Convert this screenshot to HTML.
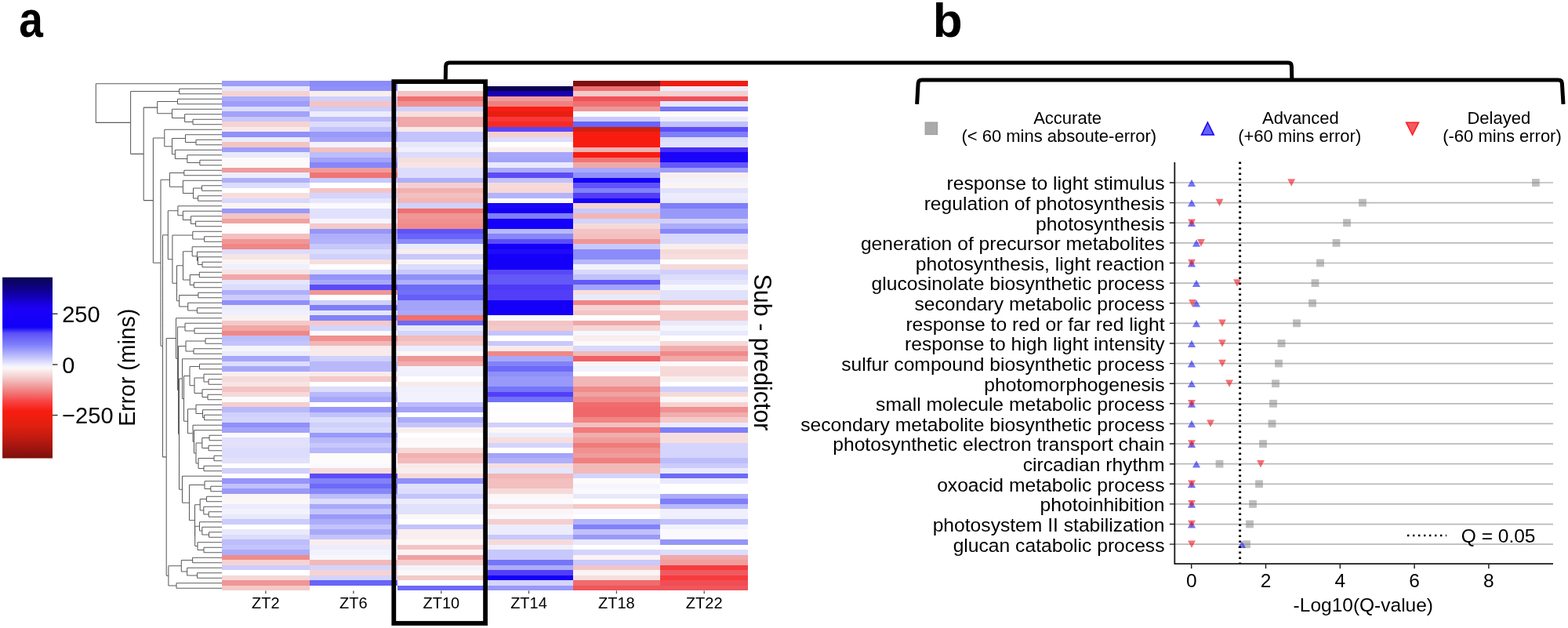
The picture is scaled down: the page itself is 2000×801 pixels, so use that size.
<!DOCTYPE html><html><head><meta charset="utf-8"><title>Figure</title><style>html,body{margin:0;padding:0;background:#fff}body{width:2000px;height:801px;overflow:hidden}svg{display:block}text{font-family:"Liberation Sans",Arial,Helvetica,sans-serif;fill:#000}</style></head><body>
<svg width="2000" height="801" viewBox="0 0 2000 801">
<rect width="2000" height="801" fill="#fff"/>
<text transform="translate(24.3 47.2) scale(0.86 1)" font-size="64" font-weight="bold" fill="#000">a</text>
<text x="1189.8" y="47" font-size="62" font-weight="bold" fill="#000">b</text>
<g shape-rendering="crispEdges">
<rect x="283.10" y="103.40" width="112.25" height="7.10" fill="#9e9efa"/>
<rect x="394.75" y="103.40" width="112.85" height="7.10" fill="#8b8bfa"/>
<rect x="507.00" y="103.40" width="112.20" height="7.10" fill="#ffffff"/>
<rect x="618.60" y="103.40" width="112.50" height="7.10" fill="#f9f9fe"/>
<rect x="730.50" y="103.40" width="112.30" height="7.10" fill="#801010"/>
<rect x="842.20" y="103.40" width="112.00" height="7.10" fill="#f01d10"/>
<rect x="283.10" y="109.90" width="112.25" height="7.10" fill="#e7e7fc"/>
<rect x="394.75" y="109.90" width="112.85" height="7.10" fill="#9090fa"/>
<rect x="507.00" y="109.90" width="112.20" height="7.10" fill="#fbfbfe"/>
<rect x="618.60" y="109.90" width="112.50" height="7.10" fill="#080050"/>
<rect x="730.50" y="109.90" width="112.30" height="7.10" fill="#f07070"/>
<rect x="842.20" y="109.90" width="112.00" height="7.10" fill="#ececfc"/>
<rect x="283.10" y="116.40" width="112.25" height="7.10" fill="#f6d3d3"/>
<rect x="394.75" y="116.40" width="112.85" height="7.10" fill="#f9eeee"/>
<rect x="507.00" y="116.40" width="112.20" height="7.10" fill="#f4c4c4"/>
<rect x="618.60" y="116.40" width="112.50" height="7.10" fill="#1800b0"/>
<rect x="730.50" y="116.40" width="112.30" height="7.10" fill="#f4c9c9"/>
<rect x="842.20" y="116.40" width="112.00" height="7.10" fill="#f5cece"/>
<rect x="283.10" y="122.90" width="112.25" height="7.10" fill="#acacfa"/>
<rect x="394.75" y="122.90" width="112.85" height="7.10" fill="#d0d0fc"/>
<rect x="507.00" y="122.90" width="112.20" height="7.10" fill="#f07070"/>
<rect x="618.60" y="122.90" width="112.50" height="7.10" fill="#f09c9c"/>
<rect x="730.50" y="122.90" width="112.30" height="7.10" fill="#f05058"/>
<rect x="842.20" y="122.90" width="112.00" height="7.10" fill="#f05058"/>
<rect x="283.10" y="129.40" width="112.25" height="7.10" fill="#9e9efa"/>
<rect x="394.75" y="129.40" width="112.85" height="7.10" fill="#f4c4c4"/>
<rect x="507.00" y="129.40" width="112.20" height="7.10" fill="#f09090"/>
<rect x="618.60" y="129.40" width="112.50" height="7.10" fill="#f08080"/>
<rect x="730.50" y="129.40" width="112.30" height="7.10" fill="#f07070"/>
<rect x="842.20" y="129.40" width="112.00" height="7.10" fill="#e5e5fc"/>
<rect x="283.10" y="135.90" width="112.25" height="7.10" fill="#dcdcfc"/>
<rect x="394.75" y="135.90" width="112.85" height="7.10" fill="#ccccfc"/>
<rect x="507.00" y="135.90" width="112.20" height="7.10" fill="#d0d0fc"/>
<rect x="618.60" y="135.90" width="112.50" height="7.10" fill="#f81f14"/>
<rect x="730.50" y="135.90" width="112.30" height="7.10" fill="#f09696"/>
<rect x="842.20" y="135.90" width="112.00" height="7.10" fill="#7575f8"/>
<rect x="283.10" y="142.40" width="112.25" height="7.10" fill="#a3a3fa"/>
<rect x="394.75" y="142.40" width="112.85" height="7.10" fill="#ececfc"/>
<rect x="507.00" y="142.40" width="112.20" height="7.10" fill="#f7dede"/>
<rect x="618.60" y="142.40" width="112.50" height="7.10" fill="#e81e10"/>
<rect x="730.50" y="142.40" width="112.30" height="7.10" fill="#fbfbfe"/>
<rect x="842.20" y="142.40" width="112.00" height="7.10" fill="#fefbfb"/>
<rect x="283.10" y="148.90" width="112.25" height="7.10" fill="#c8c8fc"/>
<rect x="394.75" y="148.90" width="112.85" height="7.10" fill="#bdbdfb"/>
<rect x="507.00" y="148.90" width="112.20" height="7.10" fill="#f0a8a8"/>
<rect x="618.60" y="148.90" width="112.50" height="7.10" fill="#f83838"/>
<rect x="730.50" y="148.90" width="112.30" height="7.10" fill="#c8c8fc"/>
<rect x="842.20" y="148.90" width="112.00" height="7.10" fill="#ececfc"/>
<rect x="283.10" y="155.40" width="112.25" height="7.10" fill="#f6d3d3"/>
<rect x="394.75" y="155.40" width="112.85" height="7.10" fill="#dcdcfc"/>
<rect x="507.00" y="155.40" width="112.20" height="7.10" fill="#f0a8a8"/>
<rect x="618.60" y="155.40" width="112.50" height="7.10" fill="#f82a24"/>
<rect x="730.50" y="155.40" width="112.30" height="7.10" fill="#6964f8"/>
<rect x="842.20" y="155.40" width="112.00" height="7.10" fill="#c1c1fc"/>
<rect x="283.10" y="161.90" width="112.25" height="7.10" fill="#f8eaea"/>
<rect x="394.75" y="161.90" width="112.85" height="7.10" fill="#c4c4fc"/>
<rect x="507.00" y="161.90" width="112.20" height="7.10" fill="#f8eaea"/>
<rect x="618.60" y="161.90" width="112.50" height="7.10" fill="#5947f8"/>
<rect x="730.50" y="161.90" width="112.30" height="7.10" fill="#d02010"/>
<rect x="842.20" y="161.90" width="112.00" height="7.10" fill="#5c4cf8"/>
<rect x="283.10" y="168.40" width="112.25" height="7.10" fill="#9090fa"/>
<rect x="394.75" y="168.40" width="112.85" height="7.10" fill="#9999fa"/>
<rect x="507.00" y="168.40" width="112.20" height="7.10" fill="#c4c4fc"/>
<rect x="618.60" y="168.40" width="112.50" height="7.10" fill="#f5cece"/>
<rect x="730.50" y="168.40" width="112.30" height="7.10" fill="#f81c10"/>
<rect x="842.20" y="168.40" width="112.00" height="7.10" fill="#7e7ef9"/>
<rect x="283.10" y="174.90" width="112.25" height="7.10" fill="#ececfc"/>
<rect x="394.75" y="174.90" width="112.85" height="7.10" fill="#a3a3fa"/>
<rect x="507.00" y="174.90" width="112.20" height="7.10" fill="#c4c4fc"/>
<rect x="618.60" y="174.90" width="112.50" height="7.10" fill="#dcdcfc"/>
<rect x="730.50" y="174.90" width="112.30" height="7.10" fill="#f81c10"/>
<rect x="842.20" y="174.90" width="112.00" height="7.10" fill="#dcdcfc"/>
<rect x="283.10" y="181.40" width="112.25" height="7.10" fill="#f4c4c4"/>
<rect x="394.75" y="181.40" width="112.85" height="7.10" fill="#f2f2fd"/>
<rect x="507.00" y="181.40" width="112.20" height="7.10" fill="#e7e7fc"/>
<rect x="618.60" y="181.40" width="112.50" height="7.10" fill="#fefcfc"/>
<rect x="730.50" y="181.40" width="112.30" height="7.10" fill="#f81c10"/>
<rect x="842.20" y="181.40" width="112.00" height="7.10" fill="#e1e1fc"/>
<rect x="283.10" y="187.90" width="112.25" height="7.10" fill="#9e9efa"/>
<rect x="394.75" y="187.90" width="112.85" height="7.10" fill="#f3bfbf"/>
<rect x="507.00" y="187.90" width="112.20" height="7.10" fill="#f0f0fd"/>
<rect x="618.60" y="187.90" width="112.50" height="7.10" fill="#f9eeee"/>
<rect x="730.50" y="187.90" width="112.30" height="7.10" fill="#f1b1b1"/>
<rect x="842.20" y="187.90" width="112.00" height="7.10" fill="#4830f8"/>
<rect x="283.10" y="194.40" width="112.25" height="7.10" fill="#e9e9fc"/>
<rect x="394.75" y="194.40" width="112.85" height="7.10" fill="#bdbdfb"/>
<rect x="507.00" y="194.40" width="112.20" height="7.10" fill="#dcdcfc"/>
<rect x="618.60" y="194.40" width="112.50" height="7.10" fill="#a7a7fa"/>
<rect x="730.50" y="194.40" width="112.30" height="7.10" fill="#f81c10"/>
<rect x="842.20" y="194.40" width="112.00" height="7.10" fill="#1a05f8"/>
<rect x="283.10" y="200.90" width="112.25" height="7.10" fill="#fdf9f9"/>
<rect x="394.75" y="200.90" width="112.85" height="7.10" fill="#a3a3fa"/>
<rect x="507.00" y="200.90" width="112.20" height="7.10" fill="#f7dede"/>
<rect x="618.60" y="200.90" width="112.50" height="7.10" fill="#a3a3fa"/>
<rect x="730.50" y="200.90" width="112.30" height="7.10" fill="#f07575"/>
<rect x="842.20" y="200.90" width="112.00" height="7.10" fill="#1a05f8"/>
<rect x="283.10" y="207.40" width="112.25" height="7.10" fill="#fdf9f9"/>
<rect x="394.75" y="207.40" width="112.85" height="7.10" fill="#8787f9"/>
<rect x="507.00" y="207.40" width="112.20" height="7.10" fill="#f7e4e4"/>
<rect x="618.60" y="207.40" width="112.50" height="7.10" fill="#e9e9fc"/>
<rect x="730.50" y="207.40" width="112.30" height="7.10" fill="#f0a8a8"/>
<rect x="842.20" y="207.40" width="112.00" height="7.10" fill="#6358f8"/>
<rect x="283.10" y="213.90" width="112.25" height="7.10" fill="#f09c9c"/>
<rect x="394.75" y="213.90" width="112.85" height="7.10" fill="#f09c9c"/>
<rect x="507.00" y="213.90" width="112.20" height="7.10" fill="#dcdcfc"/>
<rect x="618.60" y="213.90" width="112.50" height="7.10" fill="#acacfa"/>
<rect x="730.50" y="213.90" width="112.30" height="7.10" fill="#a9a9fa"/>
<rect x="842.20" y="213.90" width="112.00" height="7.10" fill="#9e9efa"/>
<rect x="283.10" y="220.40" width="112.25" height="7.10" fill="#ececfc"/>
<rect x="394.75" y="220.40" width="112.85" height="7.10" fill="#f07575"/>
<rect x="507.00" y="220.40" width="112.20" height="7.10" fill="#dcdcfc"/>
<rect x="618.60" y="220.40" width="112.50" height="7.10" fill="#5c4cf8"/>
<rect x="730.50" y="220.40" width="112.30" height="7.10" fill="#9090fa"/>
<rect x="842.20" y="220.40" width="112.00" height="7.10" fill="#f9eeee"/>
<rect x="283.10" y="226.90" width="112.25" height="7.10" fill="#afaffa"/>
<rect x="394.75" y="226.90" width="112.85" height="7.10" fill="#c8c8fc"/>
<rect x="507.00" y="226.90" width="112.20" height="7.10" fill="#afaffa"/>
<rect x="618.60" y="226.90" width="112.50" height="7.10" fill="#c1c1fc"/>
<rect x="730.50" y="226.90" width="112.30" height="7.10" fill="#1400f8"/>
<rect x="842.20" y="226.90" width="112.00" height="7.10" fill="#f2f2fd"/>
<rect x="283.10" y="233.40" width="112.25" height="7.10" fill="#dcdcfc"/>
<rect x="394.75" y="233.40" width="112.85" height="7.10" fill="#ffffff"/>
<rect x="507.00" y="233.40" width="112.20" height="7.10" fill="#f5cece"/>
<rect x="618.60" y="233.40" width="112.50" height="7.10" fill="#f6dada"/>
<rect x="730.50" y="233.40" width="112.30" height="7.10" fill="#5f52f8"/>
<rect x="842.20" y="233.40" width="112.00" height="7.10" fill="#fbf4f4"/>
<rect x="283.10" y="239.90" width="112.25" height="7.10" fill="#ffffff"/>
<rect x="394.75" y="239.90" width="112.85" height="7.10" fill="#f4c4c4"/>
<rect x="507.00" y="239.90" width="112.20" height="7.10" fill="#f1b1b1"/>
<rect x="618.60" y="239.90" width="112.50" height="7.10" fill="#f6d8d8"/>
<rect x="730.50" y="239.90" width="112.30" height="7.10" fill="#8282f9"/>
<rect x="842.20" y="239.90" width="112.00" height="7.10" fill="#e1e1fc"/>
<rect x="283.10" y="246.40" width="112.25" height="7.10" fill="#f7dede"/>
<rect x="394.75" y="246.40" width="112.85" height="7.10" fill="#d4d4fc"/>
<rect x="507.00" y="246.40" width="112.20" height="7.10" fill="#f3bfbf"/>
<rect x="618.60" y="246.40" width="112.50" height="7.10" fill="#b3b3fb"/>
<rect x="730.50" y="246.40" width="112.30" height="7.10" fill="#523ef8"/>
<rect x="842.20" y="246.40" width="112.00" height="7.10" fill="#ececfc"/>
<rect x="283.10" y="252.90" width="112.25" height="7.10" fill="#d8d8fc"/>
<rect x="394.75" y="252.90" width="112.85" height="7.10" fill="#e5e5fc"/>
<rect x="507.00" y="252.90" width="112.20" height="7.10" fill="#f2b6b6"/>
<rect x="618.60" y="252.90" width="112.50" height="7.10" fill="#fbfbfe"/>
<rect x="730.50" y="252.90" width="112.30" height="7.10" fill="#1a05f8"/>
<rect x="842.20" y="252.90" width="112.00" height="7.10" fill="#e9e9fc"/>
<rect x="283.10" y="259.40" width="112.25" height="7.10" fill="#fbf4f4"/>
<rect x="394.75" y="259.40" width="112.85" height="7.10" fill="#fafafe"/>
<rect x="507.00" y="259.40" width="112.20" height="7.10" fill="#d0d0fc"/>
<rect x="618.60" y="259.40" width="112.50" height="7.10" fill="#1a05f8"/>
<rect x="730.50" y="259.40" width="112.30" height="7.10" fill="#f6d3d3"/>
<rect x="842.20" y="259.40" width="112.00" height="7.10" fill="#7e7ef9"/>
<rect x="283.10" y="265.90" width="112.25" height="7.10" fill="#9999fa"/>
<rect x="394.75" y="265.90" width="112.85" height="7.10" fill="#e1e1fc"/>
<rect x="507.00" y="265.90" width="112.20" height="7.10" fill="#f07070"/>
<rect x="618.60" y="265.90" width="112.50" height="7.10" fill="#1400f3"/>
<rect x="730.50" y="265.90" width="112.30" height="7.10" fill="#c8c8fc"/>
<rect x="842.20" y="265.90" width="112.00" height="7.10" fill="#9999fa"/>
<rect x="283.10" y="272.40" width="112.25" height="7.10" fill="#f4c4c4"/>
<rect x="394.75" y="272.40" width="112.85" height="7.10" fill="#e1e1fc"/>
<rect x="507.00" y="272.40" width="112.20" height="7.10" fill="#f09696"/>
<rect x="618.60" y="272.40" width="112.50" height="7.10" fill="#7e7ef9"/>
<rect x="730.50" y="272.40" width="112.30" height="7.10" fill="#f2b6b6"/>
<rect x="842.20" y="272.40" width="112.00" height="7.10" fill="#9999fa"/>
<rect x="283.10" y="278.90" width="112.25" height="7.10" fill="#f0a2a2"/>
<rect x="394.75" y="278.90" width="112.85" height="7.10" fill="#f5f5fd"/>
<rect x="507.00" y="278.90" width="112.20" height="7.10" fill="#f09090"/>
<rect x="618.60" y="278.90" width="112.50" height="7.10" fill="#1400f8"/>
<rect x="730.50" y="278.90" width="112.30" height="7.10" fill="#d4d4fc"/>
<rect x="842.20" y="278.90" width="112.00" height="7.10" fill="#d0d0fc"/>
<rect x="283.10" y="285.40" width="112.25" height="7.10" fill="#fefcfc"/>
<rect x="394.75" y="285.40" width="112.85" height="7.10" fill="#f4c9c9"/>
<rect x="507.00" y="285.40" width="112.20" height="7.10" fill="#f08b8b"/>
<rect x="618.60" y="285.40" width="112.50" height="7.10" fill="#1400f8"/>
<rect x="730.50" y="285.40" width="112.30" height="7.10" fill="#f6dada"/>
<rect x="842.20" y="285.40" width="112.00" height="7.10" fill="#acacfa"/>
<rect x="283.10" y="291.90" width="112.25" height="7.10" fill="#fefcfc"/>
<rect x="394.75" y="291.90" width="112.85" height="7.10" fill="#9595fa"/>
<rect x="507.00" y="291.90" width="112.20" height="7.10" fill="#5f52f8"/>
<rect x="618.60" y="291.90" width="112.50" height="7.10" fill="#b8b8fb"/>
<rect x="730.50" y="291.90" width="112.30" height="7.10" fill="#f4c4c4"/>
<rect x="842.20" y="291.90" width="112.00" height="7.10" fill="#8787f9"/>
<rect x="283.10" y="298.40" width="112.25" height="7.10" fill="#f3bfbf"/>
<rect x="394.75" y="298.40" width="112.85" height="7.10" fill="#afaffa"/>
<rect x="507.00" y="298.40" width="112.20" height="7.10" fill="#6964f8"/>
<rect x="618.60" y="298.40" width="112.50" height="7.10" fill="#8787f9"/>
<rect x="730.50" y="298.40" width="112.30" height="7.10" fill="#f3bfbf"/>
<rect x="842.20" y="298.40" width="112.00" height="7.10" fill="#d8d8fc"/>
<rect x="283.10" y="304.90" width="112.25" height="7.10" fill="#f09696"/>
<rect x="394.75" y="304.90" width="112.85" height="7.10" fill="#b3b3fb"/>
<rect x="507.00" y="304.90" width="112.20" height="7.10" fill="#8b8bfa"/>
<rect x="618.60" y="304.90" width="112.50" height="7.10" fill="#5c4cf8"/>
<rect x="730.50" y="304.90" width="112.30" height="7.10" fill="#f09696"/>
<rect x="842.20" y="304.90" width="112.00" height="7.10" fill="#d8d8fc"/>
<rect x="283.10" y="311.40" width="112.25" height="7.10" fill="#f08787"/>
<rect x="394.75" y="311.40" width="112.85" height="7.10" fill="#c8c8fc"/>
<rect x="507.00" y="311.40" width="112.20" height="7.10" fill="#e9e9fc"/>
<rect x="618.60" y="311.40" width="112.50" height="7.10" fill="#1400f8"/>
<rect x="730.50" y="311.40" width="112.30" height="7.10" fill="#c8c8fc"/>
<rect x="842.20" y="311.40" width="112.00" height="7.10" fill="#f9eeee"/>
<rect x="283.10" y="317.90" width="112.25" height="7.10" fill="#dcdcfc"/>
<rect x="394.75" y="317.90" width="112.85" height="7.10" fill="#dcdcfc"/>
<rect x="507.00" y="317.90" width="112.20" height="7.10" fill="#f9eeee"/>
<rect x="618.60" y="317.90" width="112.50" height="7.10" fill="#200bf8"/>
<rect x="730.50" y="317.90" width="112.30" height="7.10" fill="#8b8bfa"/>
<rect x="842.20" y="317.90" width="112.00" height="7.10" fill="#f6dada"/>
<rect x="283.10" y="324.40" width="112.25" height="7.10" fill="#f7e4e4"/>
<rect x="394.75" y="324.40" width="112.85" height="7.10" fill="#d0d0fc"/>
<rect x="507.00" y="324.40" width="112.20" height="7.10" fill="#c8c8fc"/>
<rect x="618.60" y="324.40" width="112.50" height="7.10" fill="#1400f8"/>
<rect x="730.50" y="324.40" width="112.30" height="7.10" fill="#8b8bfa"/>
<rect x="842.20" y="324.40" width="112.00" height="7.10" fill="#f7dede"/>
<rect x="283.10" y="330.90" width="112.25" height="7.10" fill="#fbf4f4"/>
<rect x="394.75" y="330.90" width="112.85" height="7.10" fill="#f7dede"/>
<rect x="507.00" y="330.90" width="112.20" height="7.10" fill="#fbf4f4"/>
<rect x="618.60" y="330.90" width="112.50" height="7.10" fill="#1400f8"/>
<rect x="730.50" y="330.90" width="112.30" height="7.10" fill="#b8b8fb"/>
<rect x="842.20" y="330.90" width="112.00" height="7.10" fill="#ffffff"/>
<rect x="283.10" y="337.40" width="112.25" height="7.10" fill="#f0f0fd"/>
<rect x="394.75" y="337.40" width="112.85" height="7.10" fill="#ffffff"/>
<rect x="507.00" y="337.40" width="112.20" height="7.10" fill="#dcdcfc"/>
<rect x="618.60" y="337.40" width="112.50" height="7.10" fill="#1400f8"/>
<rect x="730.50" y="337.40" width="112.30" height="7.10" fill="#f2f2fd"/>
<rect x="842.20" y="337.40" width="112.00" height="7.10" fill="#f6dada"/>
<rect x="283.10" y="343.90" width="112.25" height="7.10" fill="#f7e4e4"/>
<rect x="394.75" y="343.90" width="112.85" height="7.10" fill="#dcdcfc"/>
<rect x="507.00" y="343.90" width="112.20" height="7.10" fill="#c8c8fc"/>
<rect x="618.60" y="343.90" width="112.50" height="7.10" fill="#5947f8"/>
<rect x="730.50" y="343.90" width="112.30" height="7.10" fill="#d8d8fc"/>
<rect x="842.20" y="343.90" width="112.00" height="7.10" fill="#d0d0fc"/>
<rect x="283.10" y="350.40" width="112.25" height="7.10" fill="#f0a8a8"/>
<rect x="394.75" y="350.40" width="112.85" height="7.10" fill="#9595fa"/>
<rect x="507.00" y="350.40" width="112.20" height="7.10" fill="#9090fa"/>
<rect x="618.60" y="350.40" width="112.50" height="7.10" fill="#6358f8"/>
<rect x="730.50" y="350.40" width="112.30" height="7.10" fill="#c1c1fc"/>
<rect x="842.20" y="350.40" width="112.00" height="7.10" fill="#dcdcfc"/>
<rect x="283.10" y="356.90" width="112.25" height="7.10" fill="#e5e5fc"/>
<rect x="394.75" y="356.90" width="112.85" height="7.10" fill="#a9a9fa"/>
<rect x="507.00" y="356.90" width="112.20" height="7.10" fill="#afaffa"/>
<rect x="618.60" y="356.90" width="112.50" height="7.10" fill="#6358f8"/>
<rect x="730.50" y="356.90" width="112.30" height="7.10" fill="#6358f8"/>
<rect x="842.20" y="356.90" width="112.00" height="7.10" fill="#e5e5fc"/>
<rect x="283.10" y="363.40" width="112.25" height="7.10" fill="#dcdcfc"/>
<rect x="394.75" y="363.40" width="112.85" height="7.10" fill="#5c4cf8"/>
<rect x="507.00" y="363.40" width="112.20" height="7.10" fill="#6d6af8"/>
<rect x="618.60" y="363.40" width="112.50" height="7.10" fill="#4f39f8"/>
<rect x="730.50" y="363.40" width="112.30" height="7.10" fill="#a3a3fa"/>
<rect x="842.20" y="363.40" width="112.00" height="7.10" fill="#f7f7fe"/>
<rect x="283.10" y="369.90" width="112.25" height="7.10" fill="#afaffa"/>
<rect x="394.75" y="369.90" width="112.85" height="7.10" fill="#f09696"/>
<rect x="507.00" y="369.90" width="112.20" height="7.10" fill="#7070f8"/>
<rect x="618.60" y="369.90" width="112.50" height="7.10" fill="#523ef8"/>
<rect x="730.50" y="369.90" width="112.30" height="7.10" fill="#f7dede"/>
<rect x="842.20" y="369.90" width="112.00" height="7.10" fill="#e1e1fc"/>
<rect x="283.10" y="376.40" width="112.25" height="7.10" fill="#ccccfc"/>
<rect x="394.75" y="376.40" width="112.85" height="7.10" fill="#ffffff"/>
<rect x="507.00" y="376.40" width="112.20" height="7.10" fill="#665ef8"/>
<rect x="618.60" y="376.40" width="112.50" height="7.10" fill="#523ef8"/>
<rect x="730.50" y="376.40" width="112.30" height="7.10" fill="#e9e9fc"/>
<rect x="842.20" y="376.40" width="112.00" height="7.10" fill="#e1e1fc"/>
<rect x="283.10" y="382.90" width="112.25" height="7.10" fill="#9090fa"/>
<rect x="394.75" y="382.90" width="112.85" height="7.10" fill="#d0d0fc"/>
<rect x="507.00" y="382.90" width="112.20" height="7.10" fill="#a3a3fa"/>
<rect x="618.60" y="382.90" width="112.50" height="7.10" fill="#1400f8"/>
<rect x="730.50" y="382.90" width="112.30" height="7.10" fill="#f08585"/>
<rect x="842.20" y="382.90" width="112.00" height="7.10" fill="#f2b6b6"/>
<rect x="283.10" y="389.40" width="112.25" height="7.10" fill="#ececfc"/>
<rect x="394.75" y="389.40" width="112.85" height="7.10" fill="#7e7ef9"/>
<rect x="507.00" y="389.40" width="112.20" height="7.10" fill="#a3a3fa"/>
<rect x="618.60" y="389.40" width="112.50" height="7.10" fill="#1400f8"/>
<rect x="730.50" y="389.40" width="112.30" height="7.10" fill="#f6d3d3"/>
<rect x="842.20" y="389.40" width="112.00" height="7.10" fill="#fbf4f4"/>
<rect x="283.10" y="395.90" width="112.25" height="7.10" fill="#f0f0fd"/>
<rect x="394.75" y="395.90" width="112.85" height="7.10" fill="#e5e5fc"/>
<rect x="507.00" y="395.90" width="112.20" height="7.10" fill="#a9a9fa"/>
<rect x="618.60" y="395.90" width="112.50" height="7.10" fill="#1400f8"/>
<rect x="730.50" y="395.90" width="112.30" height="7.10" fill="#f4c4c4"/>
<rect x="842.20" y="395.90" width="112.00" height="7.10" fill="#f4c9c9"/>
<rect x="283.10" y="402.40" width="112.25" height="7.10" fill="#faf1f1"/>
<rect x="394.75" y="402.40" width="112.85" height="7.10" fill="#8282f9"/>
<rect x="507.00" y="402.40" width="112.20" height="7.10" fill="#f07070"/>
<rect x="618.60" y="402.40" width="112.50" height="7.10" fill="#fafafe"/>
<rect x="730.50" y="402.40" width="112.30" height="7.10" fill="#ffffff"/>
<rect x="842.20" y="402.40" width="112.00" height="7.10" fill="#f4c9c9"/>
<rect x="283.10" y="408.90" width="112.25" height="7.10" fill="#f4c9c9"/>
<rect x="394.75" y="408.90" width="112.85" height="7.10" fill="#f4c9c9"/>
<rect x="507.00" y="408.90" width="112.20" height="7.10" fill="#6d6af8"/>
<rect x="618.60" y="408.90" width="112.50" height="7.10" fill="#f4c4c4"/>
<rect x="730.50" y="408.90" width="112.30" height="7.10" fill="#f0a8a8"/>
<rect x="842.20" y="408.90" width="112.00" height="7.10" fill="#e9e9fc"/>
<rect x="283.10" y="415.40" width="112.25" height="7.10" fill="#f0a8a8"/>
<rect x="394.75" y="415.40" width="112.85" height="7.10" fill="#d4d4fc"/>
<rect x="507.00" y="415.40" width="112.20" height="7.10" fill="#e9e9fc"/>
<rect x="618.60" y="415.40" width="112.50" height="7.10" fill="#f4c9c9"/>
<rect x="730.50" y="415.40" width="112.30" height="7.10" fill="#f6d6d6"/>
<rect x="842.20" y="415.40" width="112.00" height="7.10" fill="#f5f5fd"/>
<rect x="283.10" y="421.90" width="112.25" height="7.10" fill="#f08787"/>
<rect x="394.75" y="421.90" width="112.85" height="7.10" fill="#fafafe"/>
<rect x="507.00" y="421.90" width="112.20" height="7.10" fill="#d4d4fc"/>
<rect x="618.60" y="421.90" width="112.50" height="7.10" fill="#c4c4fc"/>
<rect x="730.50" y="421.90" width="112.30" height="7.10" fill="#f7f7fe"/>
<rect x="842.20" y="421.90" width="112.00" height="7.10" fill="#e9e9fc"/>
<rect x="283.10" y="428.40" width="112.25" height="7.10" fill="#bdbdfb"/>
<rect x="394.75" y="428.40" width="112.85" height="7.10" fill="#f09090"/>
<rect x="507.00" y="428.40" width="112.20" height="7.10" fill="#f3bbbb"/>
<rect x="618.60" y="428.40" width="112.50" height="7.10" fill="#ffffff"/>
<rect x="730.50" y="428.40" width="112.30" height="7.10" fill="#f9eeee"/>
<rect x="842.20" y="428.40" width="112.00" height="7.10" fill="#ffffff"/>
<rect x="283.10" y="434.90" width="112.25" height="7.10" fill="#c4c4fc"/>
<rect x="394.75" y="434.90" width="112.85" height="7.10" fill="#f2b6b6"/>
<rect x="507.00" y="434.90" width="112.20" height="7.10" fill="#f4c9c9"/>
<rect x="618.60" y="434.90" width="112.50" height="7.10" fill="#c8c8fc"/>
<rect x="730.50" y="434.90" width="112.30" height="7.10" fill="#fdf9f9"/>
<rect x="842.20" y="434.90" width="112.00" height="7.10" fill="#f6d8d8"/>
<rect x="283.10" y="441.40" width="112.25" height="7.10" fill="#f5f5fd"/>
<rect x="394.75" y="441.40" width="112.85" height="7.10" fill="#f8eaea"/>
<rect x="507.00" y="441.40" width="112.20" height="7.10" fill="#ececfc"/>
<rect x="618.60" y="441.40" width="112.50" height="7.10" fill="#f8eaea"/>
<rect x="730.50" y="441.40" width="112.30" height="7.10" fill="#d8d8fc"/>
<rect x="842.20" y="441.40" width="112.00" height="7.10" fill="#f1adad"/>
<rect x="283.10" y="447.90" width="112.25" height="7.10" fill="#ebebfc"/>
<rect x="394.75" y="447.90" width="112.85" height="7.10" fill="#f8eaea"/>
<rect x="507.00" y="447.90" width="112.20" height="7.10" fill="#fdf8f8"/>
<rect x="618.60" y="447.90" width="112.50" height="7.10" fill="#f08787"/>
<rect x="730.50" y="447.90" width="112.30" height="7.10" fill="#f2b9b9"/>
<rect x="842.20" y="447.90" width="112.00" height="7.10" fill="#f08b8b"/>
<rect x="283.10" y="454.40" width="112.25" height="7.10" fill="#a7a7fa"/>
<rect x="394.75" y="454.40" width="112.85" height="7.10" fill="#d0d0fc"/>
<rect x="507.00" y="454.40" width="112.20" height="7.10" fill="#f09696"/>
<rect x="618.60" y="454.40" width="112.50" height="7.10" fill="#a7a7fa"/>
<rect x="730.50" y="454.40" width="112.30" height="7.10" fill="#f06064"/>
<rect x="842.20" y="454.40" width="112.00" height="7.10" fill="#f0a8a8"/>
<rect x="283.10" y="460.90" width="112.25" height="7.10" fill="#dcdcfc"/>
<rect x="394.75" y="460.90" width="112.85" height="7.10" fill="#b8b8fb"/>
<rect x="507.00" y="460.90" width="112.20" height="7.10" fill="#f1adad"/>
<rect x="618.60" y="460.90" width="112.50" height="7.10" fill="#8282f9"/>
<rect x="730.50" y="460.90" width="112.30" height="7.10" fill="#fbf4f4"/>
<rect x="842.20" y="460.90" width="112.00" height="7.10" fill="#fdf9f9"/>
<rect x="283.10" y="467.40" width="112.25" height="7.10" fill="#a7a7fa"/>
<rect x="394.75" y="467.40" width="112.85" height="7.10" fill="#b8b8fb"/>
<rect x="507.00" y="467.40" width="112.20" height="7.10" fill="#f2f2fd"/>
<rect x="618.60" y="467.40" width="112.50" height="7.10" fill="#6d6af8"/>
<rect x="730.50" y="467.40" width="112.30" height="7.10" fill="#f2f2fd"/>
<rect x="842.20" y="467.40" width="112.00" height="7.10" fill="#f6dada"/>
<rect x="283.10" y="473.90" width="112.25" height="7.10" fill="#f9eeee"/>
<rect x="394.75" y="473.90" width="112.85" height="7.10" fill="#f8eaea"/>
<rect x="507.00" y="473.90" width="112.20" height="7.10" fill="#f0f0fd"/>
<rect x="618.60" y="473.90" width="112.50" height="7.10" fill="#9090fa"/>
<rect x="730.50" y="473.90" width="112.30" height="7.10" fill="#ffffff"/>
<rect x="842.20" y="473.90" width="112.00" height="7.10" fill="#f6d8d8"/>
<rect x="283.10" y="480.40" width="112.25" height="7.10" fill="#f6dada"/>
<rect x="394.75" y="480.40" width="112.85" height="7.10" fill="#f4c9c9"/>
<rect x="507.00" y="480.40" width="112.20" height="7.10" fill="#ffffff"/>
<rect x="618.60" y="480.40" width="112.50" height="7.10" fill="#9999fa"/>
<rect x="730.50" y="480.40" width="112.30" height="7.10" fill="#f2b6b6"/>
<rect x="842.20" y="480.40" width="112.00" height="7.10" fill="#f9eeee"/>
<rect x="283.10" y="486.90" width="112.25" height="7.10" fill="#f7e4e4"/>
<rect x="394.75" y="486.90" width="112.85" height="7.10" fill="#ffffff"/>
<rect x="507.00" y="486.90" width="112.20" height="7.10" fill="#f8eaea"/>
<rect x="618.60" y="486.90" width="112.50" height="7.10" fill="#9999fa"/>
<rect x="730.50" y="486.90" width="112.30" height="7.10" fill="#f2b6b6"/>
<rect x="842.20" y="486.90" width="112.00" height="7.10" fill="#ffffff"/>
<rect x="283.10" y="493.40" width="112.25" height="7.10" fill="#f4c4c4"/>
<rect x="394.75" y="493.40" width="112.85" height="7.10" fill="#dcdcfc"/>
<rect x="507.00" y="493.40" width="112.20" height="7.10" fill="#f0f0fd"/>
<rect x="618.60" y="493.40" width="112.50" height="7.10" fill="#7575f8"/>
<rect x="730.50" y="493.40" width="112.30" height="7.10" fill="#f08b8b"/>
<rect x="842.20" y="493.40" width="112.00" height="7.10" fill="#d0d0fc"/>
<rect x="283.10" y="499.90" width="112.25" height="7.10" fill="#f6d8d8"/>
<rect x="394.75" y="499.90" width="112.85" height="7.10" fill="#b8b8fb"/>
<rect x="507.00" y="499.90" width="112.20" height="7.10" fill="#f2f2fd"/>
<rect x="618.60" y="499.90" width="112.50" height="7.10" fill="#523ef8"/>
<rect x="730.50" y="499.90" width="112.30" height="7.10" fill="#f0a2a2"/>
<rect x="842.20" y="499.90" width="112.00" height="7.10" fill="#f6dada"/>
<rect x="283.10" y="506.40" width="112.25" height="7.10" fill="#fbfbfe"/>
<rect x="394.75" y="506.40" width="112.85" height="7.10" fill="#a7a7fa"/>
<rect x="507.00" y="506.40" width="112.20" height="7.10" fill="#f2f2fd"/>
<rect x="618.60" y="506.40" width="112.50" height="7.10" fill="#7070f8"/>
<rect x="730.50" y="506.40" width="112.30" height="7.10" fill="#f08b8b"/>
<rect x="842.20" y="506.40" width="112.00" height="7.10" fill="#fcf7f7"/>
<rect x="283.10" y="512.90" width="112.25" height="7.10" fill="#f5cece"/>
<rect x="394.75" y="512.90" width="112.85" height="7.10" fill="#ffffff"/>
<rect x="507.00" y="512.90" width="112.20" height="7.10" fill="#bdbdfb"/>
<rect x="618.60" y="512.90" width="112.50" height="7.10" fill="#ffffff"/>
<rect x="730.50" y="512.90" width="112.30" height="7.10" fill="#f06b6c"/>
<rect x="842.20" y="512.90" width="112.00" height="7.10" fill="#f6d3d3"/>
<rect x="283.10" y="519.40" width="112.25" height="7.10" fill="#b8b8fb"/>
<rect x="394.75" y="519.40" width="112.85" height="7.10" fill="#9999fa"/>
<rect x="507.00" y="519.40" width="112.20" height="7.10" fill="#a3a3fa"/>
<rect x="618.60" y="519.40" width="112.50" height="7.10" fill="#fefcfc"/>
<rect x="730.50" y="519.40" width="112.30" height="7.10" fill="#f0676a"/>
<rect x="842.20" y="519.40" width="112.00" height="7.10" fill="#f09090"/>
<rect x="283.10" y="525.90" width="112.25" height="7.10" fill="#d0d0fc"/>
<rect x="394.75" y="525.90" width="112.85" height="7.10" fill="#c1c1fc"/>
<rect x="507.00" y="525.90" width="112.20" height="7.10" fill="#ffffff"/>
<rect x="618.60" y="525.90" width="112.50" height="7.10" fill="#ffffff"/>
<rect x="730.50" y="525.90" width="112.30" height="7.10" fill="#f0676a"/>
<rect x="842.20" y="525.90" width="112.00" height="7.10" fill="#f1adad"/>
<rect x="283.10" y="532.40" width="112.25" height="7.10" fill="#d4d4fc"/>
<rect x="394.75" y="532.40" width="112.85" height="7.10" fill="#dcdcfc"/>
<rect x="507.00" y="532.40" width="112.20" height="7.10" fill="#acacfa"/>
<rect x="618.60" y="532.40" width="112.50" height="7.10" fill="#fefcfc"/>
<rect x="730.50" y="532.40" width="112.30" height="7.10" fill="#f08585"/>
<rect x="842.20" y="532.40" width="112.00" height="7.10" fill="#f4c9c9"/>
<rect x="283.10" y="538.90" width="112.25" height="7.10" fill="#9090fa"/>
<rect x="394.75" y="538.90" width="112.85" height="7.10" fill="#d0d0fc"/>
<rect x="507.00" y="538.90" width="112.20" height="7.10" fill="#c4c4fc"/>
<rect x="618.60" y="538.90" width="112.50" height="7.10" fill="#d0d0fc"/>
<rect x="730.50" y="538.90" width="112.30" height="7.10" fill="#f3bfbf"/>
<rect x="842.20" y="538.90" width="112.00" height="7.10" fill="#ececfc"/>
<rect x="283.10" y="545.40" width="112.25" height="7.10" fill="#a3a3fa"/>
<rect x="394.75" y="545.40" width="112.85" height="7.10" fill="#d8d8fc"/>
<rect x="507.00" y="545.40" width="112.20" height="7.10" fill="#f9eeee"/>
<rect x="618.60" y="545.40" width="112.50" height="7.10" fill="#fcf7f7"/>
<rect x="730.50" y="545.40" width="112.30" height="7.10" fill="#f07b7b"/>
<rect x="842.20" y="545.40" width="112.00" height="7.10" fill="#7e7ef9"/>
<rect x="283.10" y="551.90" width="112.25" height="7.10" fill="#fafafe"/>
<rect x="394.75" y="551.90" width="112.85" height="7.10" fill="#9999fa"/>
<rect x="507.00" y="551.90" width="112.20" height="7.10" fill="#ffffff"/>
<rect x="618.60" y="551.90" width="112.50" height="7.10" fill="#ececfc"/>
<rect x="730.50" y="551.90" width="112.30" height="7.10" fill="#f1adad"/>
<rect x="842.20" y="551.90" width="112.00" height="7.10" fill="#f7dede"/>
<rect x="283.10" y="558.40" width="112.25" height="7.10" fill="#e1e1fc"/>
<rect x="394.75" y="558.40" width="112.85" height="7.10" fill="#b8b8fb"/>
<rect x="507.00" y="558.40" width="112.20" height="7.10" fill="#fdf8f8"/>
<rect x="618.60" y="558.40" width="112.50" height="7.10" fill="#f7dede"/>
<rect x="730.50" y="558.40" width="112.30" height="7.10" fill="#f09c9c"/>
<rect x="842.20" y="558.40" width="112.00" height="7.10" fill="#f7dede"/>
<rect x="283.10" y="564.90" width="112.25" height="7.10" fill="#e1e1fc"/>
<rect x="394.75" y="564.90" width="112.85" height="7.10" fill="#c8c8fc"/>
<rect x="507.00" y="564.90" width="112.20" height="7.10" fill="#fbfbfe"/>
<rect x="618.60" y="564.90" width="112.50" height="7.10" fill="#d4d4fc"/>
<rect x="730.50" y="564.90" width="112.30" height="7.10" fill="#f07b7b"/>
<rect x="842.20" y="564.90" width="112.00" height="7.10" fill="#d4d4fc"/>
<rect x="283.10" y="571.40" width="112.25" height="7.10" fill="#dcdcfc"/>
<rect x="394.75" y="571.40" width="112.85" height="7.10" fill="#b8b8fb"/>
<rect x="507.00" y="571.40" width="112.20" height="7.10" fill="#f6d8d8"/>
<rect x="618.60" y="571.40" width="112.50" height="7.10" fill="#ffffff"/>
<rect x="730.50" y="571.40" width="112.30" height="7.10" fill="#f09090"/>
<rect x="842.20" y="571.40" width="112.00" height="7.10" fill="#d4d4fc"/>
<rect x="283.10" y="577.90" width="112.25" height="7.10" fill="#dcdcfc"/>
<rect x="394.75" y="577.90" width="112.85" height="7.10" fill="#fefbfb"/>
<rect x="507.00" y="577.90" width="112.20" height="7.10" fill="#f1b1b1"/>
<rect x="618.60" y="577.90" width="112.50" height="7.10" fill="#a3a3fa"/>
<rect x="730.50" y="577.90" width="112.30" height="7.10" fill="#f09c9c"/>
<rect x="842.20" y="577.90" width="112.00" height="7.10" fill="#d4d4fc"/>
<rect x="283.10" y="584.40" width="112.25" height="7.10" fill="#e1e1fc"/>
<rect x="394.75" y="584.40" width="112.85" height="7.10" fill="#fefbfb"/>
<rect x="507.00" y="584.40" width="112.20" height="7.10" fill="#f3bbbb"/>
<rect x="618.60" y="584.40" width="112.50" height="7.10" fill="#afaffa"/>
<rect x="730.50" y="584.40" width="112.30" height="7.10" fill="#f08080"/>
<rect x="842.20" y="584.40" width="112.00" height="7.10" fill="#bdbdfb"/>
<rect x="283.10" y="590.90" width="112.25" height="7.10" fill="#fefcfc"/>
<rect x="394.75" y="590.90" width="112.85" height="7.10" fill="#f9f9fe"/>
<rect x="507.00" y="590.90" width="112.20" height="7.10" fill="#f8eaea"/>
<rect x="618.60" y="590.90" width="112.50" height="7.10" fill="#f7dede"/>
<rect x="730.50" y="590.90" width="112.30" height="7.10" fill="#f2b9b9"/>
<rect x="842.20" y="590.90" width="112.00" height="7.10" fill="#ccccfc"/>
<rect x="283.10" y="597.40" width="112.25" height="7.10" fill="#d0d0fc"/>
<rect x="394.75" y="597.40" width="112.85" height="7.10" fill="#f6dada"/>
<rect x="507.00" y="597.40" width="112.20" height="7.10" fill="#f9eeee"/>
<rect x="618.60" y="597.40" width="112.50" height="7.10" fill="#e5e5fc"/>
<rect x="730.50" y="597.40" width="112.30" height="7.10" fill="#f2b9b9"/>
<rect x="842.20" y="597.40" width="112.00" height="7.10" fill="#e9e9fc"/>
<rect x="283.10" y="603.90" width="112.25" height="7.10" fill="#fefcfc"/>
<rect x="394.75" y="603.90" width="112.85" height="7.10" fill="#5c4cf8"/>
<rect x="507.00" y="603.90" width="112.20" height="7.10" fill="#f6d8d8"/>
<rect x="618.60" y="603.90" width="112.50" height="7.10" fill="#f2b6b6"/>
<rect x="730.50" y="603.90" width="112.30" height="7.10" fill="#d4d4fc"/>
<rect x="842.20" y="603.90" width="112.00" height="7.10" fill="#6d6af8"/>
<rect x="283.10" y="610.40" width="112.25" height="7.10" fill="#9595fa"/>
<rect x="394.75" y="610.40" width="112.85" height="7.10" fill="#8282f9"/>
<rect x="507.00" y="610.40" width="112.20" height="7.10" fill="#9090fa"/>
<rect x="618.60" y="610.40" width="112.50" height="7.10" fill="#f3bfbf"/>
<rect x="730.50" y="610.40" width="112.30" height="7.10" fill="#fefbfb"/>
<rect x="842.20" y="610.40" width="112.00" height="7.10" fill="#e9e9fc"/>
<rect x="283.10" y="616.90" width="112.25" height="7.10" fill="#c1c1fc"/>
<rect x="394.75" y="616.90" width="112.85" height="7.10" fill="#6d6af8"/>
<rect x="507.00" y="616.90" width="112.20" height="7.10" fill="#e1e1fc"/>
<rect x="618.60" y="616.90" width="112.50" height="7.10" fill="#f3bfbf"/>
<rect x="730.50" y="616.90" width="112.30" height="7.10" fill="#f5f5fd"/>
<rect x="842.20" y="616.90" width="112.00" height="7.10" fill="#ffffff"/>
<rect x="283.10" y="623.40" width="112.25" height="7.10" fill="#9999fa"/>
<rect x="394.75" y="623.40" width="112.85" height="7.10" fill="#8787f9"/>
<rect x="507.00" y="623.40" width="112.20" height="7.10" fill="#dcdcfc"/>
<rect x="618.60" y="623.40" width="112.50" height="7.10" fill="#f6dada"/>
<rect x="730.50" y="623.40" width="112.30" height="7.10" fill="#f9f9fe"/>
<rect x="842.20" y="623.40" width="112.00" height="7.10" fill="#ffffff"/>
<rect x="283.10" y="629.90" width="112.25" height="7.10" fill="#fbf4f4"/>
<rect x="394.75" y="629.90" width="112.85" height="7.10" fill="#bdbdfb"/>
<rect x="507.00" y="629.90" width="112.20" height="7.10" fill="#c4c4fc"/>
<rect x="618.60" y="629.90" width="112.50" height="7.10" fill="#fcf7f7"/>
<rect x="730.50" y="629.90" width="112.30" height="7.10" fill="#e9e9fc"/>
<rect x="842.20" y="629.90" width="112.00" height="7.10" fill="#acacfa"/>
<rect x="283.10" y="636.40" width="112.25" height="7.10" fill="#fcf7f7"/>
<rect x="394.75" y="636.40" width="112.85" height="7.10" fill="#dcdcfc"/>
<rect x="507.00" y="636.40" width="112.20" height="7.10" fill="#ececfc"/>
<rect x="618.60" y="636.40" width="112.50" height="7.10" fill="#f9f9fe"/>
<rect x="730.50" y="636.40" width="112.30" height="7.10" fill="#ffffff"/>
<rect x="842.20" y="636.40" width="112.00" height="7.10" fill="#7e7ef9"/>
<rect x="283.10" y="642.90" width="112.25" height="7.10" fill="#ececfc"/>
<rect x="394.75" y="642.90" width="112.85" height="7.10" fill="#a9a9fa"/>
<rect x="507.00" y="642.90" width="112.20" height="7.10" fill="#e1e1fc"/>
<rect x="618.60" y="642.90" width="112.50" height="7.10" fill="#f6d8d8"/>
<rect x="730.50" y="642.90" width="112.30" height="7.10" fill="#f4c9c9"/>
<rect x="842.20" y="642.90" width="112.00" height="7.10" fill="#b8b8fb"/>
<rect x="283.10" y="649.40" width="112.25" height="7.10" fill="#f2f2fd"/>
<rect x="394.75" y="649.40" width="112.85" height="7.10" fill="#c4c4fc"/>
<rect x="507.00" y="649.40" width="112.20" height="7.10" fill="#e1e1fc"/>
<rect x="618.60" y="649.40" width="112.50" height="7.10" fill="#fbf4f4"/>
<rect x="730.50" y="649.40" width="112.30" height="7.10" fill="#f9f9fe"/>
<rect x="842.20" y="649.40" width="112.00" height="7.10" fill="#f0f0fd"/>
<rect x="283.10" y="655.90" width="112.25" height="7.10" fill="#e9e9fc"/>
<rect x="394.75" y="655.90" width="112.85" height="7.10" fill="#9999fa"/>
<rect x="507.00" y="655.90" width="112.20" height="7.10" fill="#fcf7f7"/>
<rect x="618.60" y="655.90" width="112.50" height="7.10" fill="#f9f9fe"/>
<rect x="730.50" y="655.90" width="112.30" height="7.10" fill="#ffffff"/>
<rect x="842.20" y="655.90" width="112.00" height="7.10" fill="#f0f0fd"/>
<rect x="283.10" y="662.40" width="112.25" height="7.10" fill="#ccccfc"/>
<rect x="394.75" y="662.40" width="112.85" height="7.10" fill="#acacfa"/>
<rect x="507.00" y="662.40" width="112.20" height="7.10" fill="#ffffff"/>
<rect x="618.60" y="662.40" width="112.50" height="7.10" fill="#f5cece"/>
<rect x="730.50" y="662.40" width="112.30" height="7.10" fill="#b3b3fb"/>
<rect x="842.20" y="662.40" width="112.00" height="7.10" fill="#c1c1fc"/>
<rect x="283.10" y="668.90" width="112.25" height="7.10" fill="#ffffff"/>
<rect x="394.75" y="668.90" width="112.85" height="7.10" fill="#c4c4fc"/>
<rect x="507.00" y="668.90" width="112.20" height="7.10" fill="#c4c4fc"/>
<rect x="618.60" y="668.90" width="112.50" height="7.10" fill="#ececfc"/>
<rect x="730.50" y="668.90" width="112.30" height="7.10" fill="#8282f9"/>
<rect x="842.20" y="668.90" width="112.00" height="7.10" fill="#f2f2fd"/>
<rect x="283.10" y="675.40" width="112.25" height="7.10" fill="#e9e9fc"/>
<rect x="394.75" y="675.40" width="112.85" height="7.10" fill="#a9a9fa"/>
<rect x="507.00" y="675.40" width="112.20" height="7.10" fill="#f9eeee"/>
<rect x="618.60" y="675.40" width="112.50" height="7.10" fill="#ececfc"/>
<rect x="730.50" y="675.40" width="112.30" height="7.10" fill="#c1c1fc"/>
<rect x="842.20" y="675.40" width="112.00" height="7.10" fill="#fafafe"/>
<rect x="283.10" y="681.90" width="112.25" height="7.10" fill="#dcdcfc"/>
<rect x="394.75" y="681.90" width="112.85" height="7.10" fill="#c4c4fc"/>
<rect x="507.00" y="681.90" width="112.20" height="7.10" fill="#f9eeee"/>
<rect x="618.60" y="681.90" width="112.50" height="7.10" fill="#c8c8fc"/>
<rect x="730.50" y="681.90" width="112.30" height="7.10" fill="#9999fa"/>
<rect x="842.20" y="681.90" width="112.00" height="7.10" fill="#fafafe"/>
<rect x="283.10" y="688.40" width="112.25" height="7.10" fill="#bdbdfb"/>
<rect x="394.75" y="688.40" width="112.85" height="7.10" fill="#f9eeee"/>
<rect x="507.00" y="688.40" width="112.20" height="7.10" fill="#fcf7f7"/>
<rect x="618.60" y="688.40" width="112.50" height="7.10" fill="#f6dada"/>
<rect x="730.50" y="688.40" width="112.30" height="7.10" fill="#e9e9fc"/>
<rect x="842.20" y="688.40" width="112.00" height="7.10" fill="#9595fa"/>
<rect x="283.10" y="694.90" width="112.25" height="7.10" fill="#c4c4fc"/>
<rect x="394.75" y="694.90" width="112.85" height="7.10" fill="#ececfc"/>
<rect x="507.00" y="694.90" width="112.20" height="7.10" fill="#f4c4c4"/>
<rect x="618.60" y="694.90" width="112.50" height="7.10" fill="#f0f0fd"/>
<rect x="730.50" y="694.90" width="112.30" height="7.10" fill="#ffffff"/>
<rect x="842.20" y="694.90" width="112.00" height="7.10" fill="#ffffff"/>
<rect x="283.10" y="701.40" width="112.25" height="7.10" fill="#acacfa"/>
<rect x="394.75" y="701.40" width="112.85" height="7.10" fill="#f2f2fd"/>
<rect x="507.00" y="701.40" width="112.20" height="7.10" fill="#fbf4f4"/>
<rect x="618.60" y="701.40" width="112.50" height="7.10" fill="#c8c8fc"/>
<rect x="730.50" y="701.40" width="112.30" height="7.10" fill="#d4d4fc"/>
<rect x="842.20" y="701.40" width="112.00" height="7.10" fill="#dcdcfc"/>
<rect x="283.10" y="707.90" width="112.25" height="7.10" fill="#f08b8b"/>
<rect x="394.75" y="707.90" width="112.85" height="7.10" fill="#f7f7fe"/>
<rect x="507.00" y="707.90" width="112.20" height="7.10" fill="#f0a2a2"/>
<rect x="618.60" y="707.90" width="112.50" height="7.10" fill="#c8c8fc"/>
<rect x="730.50" y="707.90" width="112.30" height="7.10" fill="#fbf4f4"/>
<rect x="842.20" y="707.90" width="112.00" height="7.10" fill="#f0a8a8"/>
<rect x="283.10" y="714.40" width="112.25" height="7.10" fill="#f6d3d3"/>
<rect x="394.75" y="714.40" width="112.85" height="7.10" fill="#f2b9b9"/>
<rect x="507.00" y="714.40" width="112.20" height="7.10" fill="#f5cece"/>
<rect x="618.60" y="714.40" width="112.50" height="7.10" fill="#7575f8"/>
<rect x="730.50" y="714.40" width="112.30" height="7.10" fill="#c8c8fc"/>
<rect x="842.20" y="714.40" width="112.00" height="7.10" fill="#f09e9e"/>
<rect x="283.10" y="720.90" width="112.25" height="7.10" fill="#ccccfc"/>
<rect x="394.75" y="720.90" width="112.85" height="7.10" fill="#d4d4fc"/>
<rect x="507.00" y="720.90" width="112.20" height="7.10" fill="#f2f2fd"/>
<rect x="618.60" y="720.90" width="112.50" height="7.10" fill="#acacfa"/>
<rect x="730.50" y="720.90" width="112.30" height="7.10" fill="#f4c4c4"/>
<rect x="842.20" y="720.90" width="112.00" height="7.10" fill="#f73b3c"/>
<rect x="283.10" y="727.40" width="112.25" height="7.10" fill="#ffffff"/>
<rect x="394.75" y="727.40" width="112.85" height="7.10" fill="#f6d3d3"/>
<rect x="507.00" y="727.40" width="112.20" height="7.10" fill="#fdf8f8"/>
<rect x="618.60" y="727.40" width="112.50" height="7.10" fill="#523ef8"/>
<rect x="730.50" y="727.40" width="112.30" height="7.10" fill="#fbf4f4"/>
<rect x="842.20" y="727.40" width="112.00" height="7.10" fill="#f05b60"/>
<rect x="283.10" y="733.90" width="112.25" height="7.10" fill="#f6d8d8"/>
<rect x="394.75" y="733.90" width="112.85" height="7.10" fill="#d4d4fc"/>
<rect x="507.00" y="733.90" width="112.20" height="7.10" fill="#f4c9c9"/>
<rect x="618.60" y="733.90" width="112.50" height="7.10" fill="#1400f8"/>
<rect x="730.50" y="733.90" width="112.30" height="7.10" fill="#f7dede"/>
<rect x="842.20" y="733.90" width="112.00" height="7.10" fill="#f73b3c"/>
<rect x="283.10" y="740.40" width="112.25" height="7.10" fill="#f09696"/>
<rect x="394.75" y="740.40" width="112.85" height="7.10" fill="#6964f8"/>
<rect x="507.00" y="740.40" width="112.20" height="7.10" fill="#ffffff"/>
<rect x="618.60" y="740.40" width="112.50" height="7.10" fill="#d4d4fc"/>
<rect x="730.50" y="740.40" width="112.30" height="7.10" fill="#f06b6c"/>
<rect x="842.20" y="740.40" width="112.00" height="7.10" fill="#f14d54"/>
<rect x="283.10" y="746.90" width="112.25" height="6.50" fill="#f4c9c9"/>
<rect x="394.75" y="746.90" width="112.85" height="6.50" fill="#ffffff"/>
<rect x="507.00" y="746.90" width="112.20" height="6.50" fill="#6d6af8"/>
<rect x="618.60" y="746.90" width="112.50" height="6.50" fill="#9999fa"/>
<rect x="730.50" y="746.90" width="112.30" height="6.50" fill="#f0555c"/>
<rect x="842.20" y="746.90" width="112.00" height="6.50" fill="#f0555c"/>
</g>
<path d="M228.6 113.15H283.1M228.6 119.65H283.1M228.6 113.15V119.65M226.5 126.15H283.1M226.5 132.65H283.1M226.5 126.15V132.65M246.0 152.15H283.1M246.0 158.65H283.1M246.0 152.15V158.65M235.6 145.65H283.1M235.6 155.40H246.0M235.6 145.65V155.40M219.5 139.15H283.1M219.5 150.53H235.6M219.5 139.15V150.53M200.7 129.40H226.5M200.7 144.84H219.5M200.7 129.40V144.84M250.0 178.15H283.1M250.0 184.65H283.1M250.0 178.15V184.65M236.5 171.65H283.1M236.5 181.40H250.0M236.5 171.65V181.40M254.9 204.15H283.1M254.9 210.65H283.1M254.9 204.15V210.65M238.8 197.65H283.1M238.8 207.40H254.9M238.8 197.65V207.40M223.4 191.15H283.1M223.4 202.53H238.8M223.4 191.15V202.53M219.5 176.53H236.5M219.5 196.84H223.4M219.5 176.53V196.84M209.8 165.15H283.1M209.8 186.68H219.5M209.8 165.15V186.68M234.8 217.15H283.1M234.8 223.65H283.1M234.8 217.15V223.65M257.5 236.65H283.1M257.5 243.15H283.1M257.5 236.65V243.15M252.6 249.65H283.1M252.6 256.15H283.1M252.6 249.65V256.15M246.5 239.90H257.5M246.5 252.90H252.6M246.5 239.90V252.90M233.4 230.15H283.1M233.4 246.40H246.5M233.4 230.15V246.40M216.4 220.40H234.8M216.4 238.27H233.4M216.4 220.40V238.27M249.6 282.15H283.1M249.6 288.65H283.1M249.6 282.15V288.65M243.5 275.65H283.1M243.5 285.40H249.6M243.5 275.65V285.40M233.4 269.15H283.1M233.4 280.52H243.5M233.4 269.15V280.52M226.9 262.65H283.1M226.9 274.84H233.4M226.9 262.65V274.84M260.6 301.65H283.1M260.6 308.15H283.1M260.6 301.65V308.15M245.8 295.15H283.1M245.8 304.90H260.6M245.8 295.15V304.90M258.0 334.15H283.1M258.0 340.65H283.1M258.0 334.15V340.65M252.4 327.65H283.1M252.4 337.40H258.0M252.4 327.65V337.40M251.4 321.15H283.1M251.4 332.52H252.4M251.4 321.15V332.52M245.2 314.65H283.1M245.2 326.84H251.4M245.2 314.65V326.84M254.3 347.15H283.1M254.3 353.65H283.1M254.3 347.15V353.65M247.3 360.15H283.1M247.3 366.65H283.1M247.3 360.15V366.65M242.3 350.40H254.3M242.3 363.40H247.3M242.3 350.40V363.40M233.5 320.74H245.2M233.5 356.90H242.3M233.5 320.74V356.90M252.8 373.15H283.1M252.8 379.65H283.1M252.8 373.15V379.65M251.4 392.65H283.1M251.4 399.15H283.1M251.4 392.65V399.15M239.7 386.15H283.1M239.7 395.90H251.4M239.7 386.15V395.90M228.6 376.40H252.8M228.6 391.02H239.7M228.6 376.40V391.02M225.5 338.82H233.5M225.5 383.71H228.6M225.5 338.82V383.71M219.9 300.02H245.8M219.9 361.27H225.5M219.9 300.02V361.27M214.3 268.74H226.9M214.3 330.65H219.9M214.3 268.74V330.65M248.0 418.65H283.1M248.0 425.15H283.1M248.0 418.65V425.15M236.0 412.15H283.1M236.0 421.90H248.0M236.0 412.15V421.90M262.0 431.65H283.1M262.0 438.15H283.1M262.0 431.65V438.15M247.0 444.65H283.1M247.0 451.15H283.1M247.0 444.65V451.15M237.0 434.90H262.0M237.0 447.90H247.0M237.0 434.90V447.90M254.5 464.15H283.1M254.5 470.65H283.1M254.5 464.15V470.65M266.0 483.65H283.1M266.0 490.15H283.1M266.0 483.65V490.15M260.0 477.15H283.1M260.0 486.90H266.0M260.0 477.15V486.90M265.0 503.15H283.1M265.0 509.65H283.1M265.0 503.15V509.65M258.0 496.65H283.1M258.0 506.40H265.0M258.0 496.65V506.40M248.0 482.02H260.0M248.0 501.52H258.0M248.0 482.02V501.52M242.0 467.40H254.5M242.0 491.77H248.0M242.0 467.40V491.77M260.5 529.15H283.1M260.5 535.65H283.1M260.5 529.15V535.65M258.5 522.65H283.1M258.5 532.40H260.5M258.5 522.65V532.40M250.0 516.15H283.1M250.0 527.52H258.5M250.0 516.15V527.52M267.0 555.15H283.1M267.0 561.65H283.1M267.0 555.15V561.65M266.0 568.15H283.1M266.0 574.65H283.1M266.0 568.15V574.65M257.8 558.40H267.0M257.8 571.40H266.0M257.8 558.40V571.40M273.0 581.15H283.1M273.0 587.65H283.1M273.0 581.15V587.65M260.0 594.15H283.1M260.0 600.65H283.1M260.0 594.15V600.65M253.0 584.40H273.0M253.0 597.40H260.0M253.0 584.40V597.40M250.0 564.90H257.8M250.0 590.90H253.0M250.0 564.90V590.90M247.5 548.65H283.1M247.5 577.90H250.0M247.5 548.65V577.90M246.0 542.15H283.1M246.0 563.27H247.5M246.0 542.15V563.27M239.5 521.84H250.0M239.5 552.71H246.0M239.5 521.84V552.71M234.5 479.59H242.0M234.5 537.27H239.5M234.5 479.59V537.27M232.5 457.65H283.1M232.5 508.43H234.5M232.5 457.65V508.43M268.8 620.15H283.1M268.8 626.65H283.1M268.8 620.15V626.65M261.0 613.65H283.1M261.0 623.40H268.8M261.0 613.65V623.40M263.5 633.15H283.1M263.5 639.65H283.1M263.5 633.15V639.65M266.2 652.65H283.1M266.2 659.15H283.1M266.2 652.65V659.15M259.8 646.15H283.1M259.8 655.90H266.2M259.8 646.15V655.90M255.2 636.40H263.5M255.2 651.02H259.8M255.2 636.40V651.02M266.5 678.65H283.1M266.5 685.15H283.1M266.5 678.65V685.15M257.8 672.15H283.1M257.8 681.90H266.5M257.8 672.15V681.90M254.5 665.65H283.1M254.5 677.02H257.8M254.5 665.65V677.02M260.0 698.15H283.1M260.0 704.65H283.1M260.0 698.15V704.65M252.0 691.65H283.1M252.0 701.40H260.0M252.0 691.65V701.40M248.7 671.34H254.5M248.7 696.52H252.0M248.7 671.34V696.52M248.5 643.71H255.2M248.5 683.93H248.7M248.5 643.71V683.93M241.5 618.52H261.0M241.5 663.82H248.5M241.5 618.52V663.82M232.5 607.15H283.1M232.5 641.17H241.5M232.5 607.15V641.17M228.5 483.04H232.5M228.5 624.16H232.5M228.5 483.04V624.16M227.5 441.40H237.0M227.5 553.60H228.5M227.5 441.40V553.60M226.5 417.02H236.0M226.5 497.50H227.5M226.5 417.02V497.50M224.5 405.65H283.1M224.5 457.26H226.5M224.5 405.65V457.26M245.6 711.15H283.1M245.6 717.65H283.1M245.6 711.15V717.65M251.5 730.65H283.1M251.5 737.15H283.1M251.5 730.65V737.15M238.7 724.15H283.1M238.7 733.90H251.5M238.7 724.15V733.90M231.3 714.40H245.6M231.3 729.02H238.7M231.3 714.40V729.02M225.0 743.65H283.1M225.0 750.15H283.1M225.0 743.65V750.15M214.9 721.71H231.3M214.9 746.90H225.0M214.9 721.71V746.90M212.2 431.46H224.5M212.2 734.31H214.9M212.2 431.46V734.31M207.5 299.69H214.3M207.5 582.88H212.2M207.5 299.69V582.88M205.0 229.34H216.4M205.0 441.29H207.5M205.0 229.34V441.29M195.4 175.92H209.8M195.4 335.31H205.0M195.4 175.92V335.31M183.2 137.12H200.7M183.2 255.61H195.4M183.2 137.12V255.61M166.6 116.40H228.6M166.6 196.37H183.2M166.6 116.40V196.37M122.3 106.65H283.1M122.3 156.38H166.6M122.3 106.65V156.38" fill="none" stroke="#5c5c5c" stroke-width="1.05"/>
<path d="M338.9 753.4V757.2" stroke="#555" stroke-width="1.3"/>
<text x="338.9" y="776.4" font-size="20" text-anchor="middle">ZT2</text>
<path d="M450.9 753.4V757.2" stroke="#555" stroke-width="1.3"/>
<text x="450.9" y="776.4" font-size="20" text-anchor="middle">ZT6</text>
<path d="M562.8 753.4V757.2" stroke="#555" stroke-width="1.3"/>
<text x="562.8" y="776.4" font-size="20" text-anchor="middle">ZT10</text>
<path d="M674.5 753.4V757.2" stroke="#555" stroke-width="1.3"/>
<text x="674.5" y="776.4" font-size="20" text-anchor="middle">ZT14</text>
<path d="M786.4 753.4V757.2" stroke="#555" stroke-width="1.3"/>
<text x="786.4" y="776.4" font-size="20" text-anchor="middle">ZT18</text>
<path d="M898.2 753.4V757.2" stroke="#555" stroke-width="1.3"/>
<text x="898.2" y="776.4" font-size="20" text-anchor="middle">ZT22</text>
<rect x="502.3" y="104.1" width="116.8" height="690.9" fill="none" stroke="#000" stroke-width="5.8"/>
<path d="M568.3 101.5L568.6 84.3Q568.7 80 573 80H1643.2Q1647.3 80 1647.4 84.3L1647.8 100" fill="none" stroke="#000" stroke-width="5"/>
<path d="M1169.6 132.8L1171.1 106.3Q1171.4 102 1175.7 102H1987.8Q1992.1 102 1992.4 106.3L1994 132.8" fill="none" stroke="#000" stroke-width="5"/>
<text transform="translate(962 449.5) rotate(90)" font-size="30.5" text-anchor="middle">Sub - predictor</text>
<defs><linearGradient id="cb" x1="0" y1="0" x2="0" y2="1">
<stop offset="0.0000" stop-color="#0a0650"/>
<stop offset="0.0815" stop-color="#10009a"/>
<stop offset="0.1464" stop-color="#1800e0"/>
<stop offset="0.1789" stop-color="#1c00f8"/>
<stop offset="0.2760" stop-color="#1000f8"/>
<stop offset="0.3089" stop-color="#5c50f8"/>
<stop offset="0.3739" stop-color="#8080fa"/>
<stop offset="0.4389" stop-color="#c0c0fc"/>
<stop offset="0.4909" stop-color="#f4f4fe"/>
<stop offset="0.5026" stop-color="#fcf6f6"/>
<stop offset="0.5498" stop-color="#f4d0d0"/>
<stop offset="0.6174" stop-color="#f08c8c"/>
<stop offset="0.6850" stop-color="#f84444"/>
<stop offset="0.7392" stop-color="#f81c10"/>
<stop offset="0.8202" stop-color="#e02010"/>
<stop offset="0.8878" stop-color="#c01a10"/>
<stop offset="0.9554" stop-color="#981410"/>
<stop offset="1.0000" stop-color="#7a1008"/>
</linearGradient></defs>
<rect x="3.1" y="353.7" width="63.9" height="230.8" fill="url(#cb)"/>
<path d="M67 400.3H73.5" stroke="#333" stroke-width="1.4"/>
<text x="79.2" y="410.8" font-size="29">250</text>
<path d="M67 465.0H73.5" stroke="#333" stroke-width="1.4"/>
<text x="79.2" y="475.5" font-size="29">0</text>
<path d="M67 529.6H73.5" stroke="#333" stroke-width="1.4"/>
<text x="79.2" y="540.1" font-size="29">−250</text>
<text transform="translate(172.2 468.8) rotate(-90) scale(0.98 1)" font-size="29" text-anchor="middle">Error (mins)</text>
<rect x="1180.1" y="156" width="15.5" height="15.6" fill="#aaaaaa" stroke="#9a9a9a" stroke-width="1"/>
<path d="M1540.4 156L1548.3 172.1H1532.5Z" fill="#6262f8" stroke="#1a00f8" stroke-width="1.5"/>
<path d="M1793.6 156.2H1809.6L1801.6 172.1Z" fill="#f25a64" stroke="#ff1c1c" stroke-width="1.5"/>
<text x="1361.6" y="157.6" font-size="22" text-anchor="middle">Accurate</text>
<text x="1350.8" y="181.0" font-size="22" text-anchor="middle">(&lt; 60 mins absoute-error)</text>
<text x="1658.9" y="157.6" font-size="22" text-anchor="middle">Advanced</text>
<text x="1657.7" y="181.0" font-size="22" text-anchor="middle">(+60 mins error)</text>
<text x="1911.8" y="157.6" font-size="22" text-anchor="middle">Delayed</text>
<text x="1916.0" y="181.0" font-size="22" text-anchor="middle">(-60 mins error)</text>
<path d="M1498 233.00H1981M1498 258.62H1981M1498 284.24H1981M1498 309.86H1981M1498 335.48H1981M1498 361.10H1981M1498 386.72H1981M1498 412.34H1981M1498 437.96H1981M1498 463.58H1981M1498 489.20H1981M1498 514.82H1981M1498 540.44H1981M1498 566.06H1981M1498 591.68H1981M1498 617.30H1981M1498 642.92H1981M1498 668.54H1981M1498 694.16H1981" stroke="#bababa" stroke-width="1.7"/>
<path d="M1491.8 233.00H1498M1491.8 258.62H1498M1491.8 284.24H1498M1491.8 309.86H1498M1491.8 335.48H1498M1491.8 361.10H1498M1491.8 386.72H1498M1491.8 412.34H1498M1491.8 437.96H1498M1491.8 463.58H1498M1491.8 489.20H1498M1491.8 514.82H1498M1491.8 540.44H1498M1491.8 566.06H1498M1491.8 591.68H1498M1491.8 617.30H1498M1491.8 642.92H1498M1491.8 668.54H1498M1491.8 694.16H1498" stroke="#222" stroke-width="1.4"/>
<text x="1485.5" y="242.3" font-size="24.65" text-anchor="end">response to light stimulus</text>
<text x="1485.5" y="267.9" font-size="24.65" text-anchor="end">regulation of photosynthesis</text>
<text x="1485.5" y="293.5" font-size="24.65" text-anchor="end">photosynthesis</text>
<text x="1485.5" y="319.2" font-size="24.65" text-anchor="end">generation of precursor metabolites</text>
<text x="1485.5" y="344.8" font-size="24.65" text-anchor="end">photosynthesis, light reaction</text>
<text x="1485.5" y="370.4" font-size="24.65" text-anchor="end">glucosinolate biosynthetic process</text>
<text x="1485.5" y="396.0" font-size="24.65" text-anchor="end">secondary metabolic process</text>
<text x="1485.5" y="421.6" font-size="24.65" text-anchor="end">response to red or far red light</text>
<text x="1485.5" y="447.3" font-size="24.65" text-anchor="end">response to high light intensity</text>
<text x="1485.5" y="472.9" font-size="24.65" text-anchor="end">sulfur compound biosynthetic process</text>
<text x="1485.5" y="498.5" font-size="24.65" text-anchor="end">photomorphogenesis</text>
<text x="1485.5" y="524.1" font-size="24.65" text-anchor="end">small molecule metabolic process</text>
<text x="1485.5" y="549.7" font-size="24.65" text-anchor="end">secondary metabolite biosynthetic process</text>
<text x="1485.5" y="575.4" font-size="24.65" text-anchor="end">photosynthetic electron transport chain</text>
<text x="1485.5" y="601.0" font-size="24.65" text-anchor="end">circadian rhythm</text>
<text x="1485.5" y="626.6" font-size="24.65" text-anchor="end">oxoacid metabolic process</text>
<text x="1485.5" y="652.2" font-size="24.65" text-anchor="end">photoinhibition</text>
<text x="1485.5" y="677.8" font-size="24.65" text-anchor="end">photosystem II stabilization</text>
<text x="1485.5" y="703.5" font-size="24.65" text-anchor="end">glucan catabolic process</text>
<rect x="1954.0" y="228.1" width="9.8" height="9.8" fill="#808080" fill-opacity="0.5"/><rect x="1733.1" y="253.7" width="9.8" height="9.8" fill="#808080" fill-opacity="0.5"/><rect x="1713.1" y="279.3" width="9.8" height="9.8" fill="#808080" fill-opacity="0.5"/><rect x="1699.6" y="305.0" width="9.8" height="9.8" fill="#808080" fill-opacity="0.5"/><rect x="1679.1" y="330.6" width="9.8" height="9.8" fill="#808080" fill-opacity="0.5"/><rect x="1672.6" y="356.2" width="9.8" height="9.8" fill="#808080" fill-opacity="0.5"/><rect x="1669.1" y="381.8" width="9.8" height="9.8" fill="#808080" fill-opacity="0.5"/><rect x="1649.1" y="407.4" width="9.8" height="9.8" fill="#808080" fill-opacity="0.5"/><rect x="1629.6" y="433.1" width="9.8" height="9.8" fill="#808080" fill-opacity="0.5"/><rect x="1626.1" y="458.7" width="9.8" height="9.8" fill="#808080" fill-opacity="0.5"/><rect x="1622.1" y="484.3" width="9.8" height="9.8" fill="#808080" fill-opacity="0.5"/><rect x="1619.1" y="509.9" width="9.8" height="9.8" fill="#808080" fill-opacity="0.5"/><rect x="1617.6" y="535.5" width="9.8" height="9.8" fill="#808080" fill-opacity="0.5"/><rect x="1606.1" y="561.2" width="9.8" height="9.8" fill="#808080" fill-opacity="0.5"/><rect x="1550.6" y="586.8" width="9.8" height="9.8" fill="#808080" fill-opacity="0.5"/><rect x="1601.1" y="612.4" width="9.8" height="9.8" fill="#808080" fill-opacity="0.5"/><rect x="1593.1" y="638.0" width="9.8" height="9.8" fill="#808080" fill-opacity="0.5"/><rect x="1589.1" y="663.6" width="9.8" height="9.8" fill="#808080" fill-opacity="0.5"/><rect x="1585.1" y="689.3" width="9.8" height="9.8" fill="#808080" fill-opacity="0.5"/><path d="M1520.0 228.7L1525.1 237.9H1514.9Z" fill="#1010f0" fill-opacity="0.58"/><path d="M1642.3 228.2H1652.1L1647.2 237.7Z" fill="#ee1c25" fill-opacity="0.63"/><path d="M1520.0 254.3L1525.1 263.5H1514.9Z" fill="#1010f0" fill-opacity="0.58"/><path d="M1550.6 253.8H1560.4L1555.5 263.3Z" fill="#ee1c25" fill-opacity="0.63"/><path d="M1520.0 279.9L1525.1 289.1H1514.9Z" fill="#1010f0" fill-opacity="0.58"/><path d="M1515.1 279.4H1524.9L1520.0 288.9Z" fill="#ee1c25" fill-opacity="0.63"/><path d="M1526.0 305.6L1531.1 314.8H1520.9Z" fill="#1010f0" fill-opacity="0.58"/><path d="M1527.1 305.1H1536.9L1532.0 314.6Z" fill="#ee1c25" fill-opacity="0.63"/><path d="M1520.0 331.2L1525.1 340.4H1514.9Z" fill="#1010f0" fill-opacity="0.58"/><path d="M1515.1 330.7H1524.9L1520.0 340.2Z" fill="#ee1c25" fill-opacity="0.63"/><path d="M1526.0 356.8L1531.1 366.0H1520.9Z" fill="#1010f0" fill-opacity="0.58"/><path d="M1573.1 356.3H1582.9L1578.0 365.8Z" fill="#ee1c25" fill-opacity="0.63"/><path d="M1526.0 382.4L1531.1 391.6H1520.9Z" fill="#1010f0" fill-opacity="0.58"/><path d="M1516.1 381.9H1525.9L1521.0 391.4Z" fill="#ee1c25" fill-opacity="0.63"/><path d="M1526.0 408.0L1531.1 417.2H1520.9Z" fill="#1010f0" fill-opacity="0.58"/><path d="M1554.1 407.5H1563.9L1559.0 417.0Z" fill="#ee1c25" fill-opacity="0.63"/><path d="M1520.0 433.7L1525.1 442.9H1514.9Z" fill="#1010f0" fill-opacity="0.58"/><path d="M1554.1 433.2H1563.9L1559.0 442.7Z" fill="#ee1c25" fill-opacity="0.63"/><path d="M1520.0 459.3L1525.1 468.5H1514.9Z" fill="#1010f0" fill-opacity="0.58"/><path d="M1554.1 458.8H1563.9L1559.0 468.3Z" fill="#ee1c25" fill-opacity="0.63"/><path d="M1520.0 484.9L1525.1 494.1H1514.9Z" fill="#1010f0" fill-opacity="0.58"/><path d="M1563.1 484.4H1572.9L1568.0 493.9Z" fill="#ee1c25" fill-opacity="0.63"/><path d="M1520.0 510.5L1525.1 519.7H1514.9Z" fill="#1010f0" fill-opacity="0.58"/><path d="M1515.1 510.0H1524.9L1520.0 519.5Z" fill="#ee1c25" fill-opacity="0.63"/><path d="M1520.0 536.1L1525.1 545.3H1514.9Z" fill="#1010f0" fill-opacity="0.58"/><path d="M1539.1 535.6H1548.9L1544.0 545.1Z" fill="#ee1c25" fill-opacity="0.63"/><path d="M1520.0 561.8L1525.1 571.0H1514.9Z" fill="#1010f0" fill-opacity="0.58"/><path d="M1515.1 561.3H1524.9L1520.0 570.8Z" fill="#ee1c25" fill-opacity="0.63"/><path d="M1526.0 587.4L1531.1 596.6H1520.9Z" fill="#1010f0" fill-opacity="0.58"/><path d="M1603.1 586.9H1612.9L1608.0 596.4Z" fill="#ee1c25" fill-opacity="0.63"/><path d="M1520.0 613.0L1525.1 622.2H1514.9Z" fill="#1010f0" fill-opacity="0.58"/><path d="M1515.1 612.5H1524.9L1520.0 622.0Z" fill="#ee1c25" fill-opacity="0.63"/><path d="M1520.0 638.6L1525.1 647.8H1514.9Z" fill="#1010f0" fill-opacity="0.58"/><path d="M1515.1 638.1H1524.9L1520.0 647.6Z" fill="#ee1c25" fill-opacity="0.63"/><path d="M1520.0 664.2L1525.1 673.4H1514.9Z" fill="#1010f0" fill-opacity="0.58"/><path d="M1515.1 663.7H1524.9L1520.0 673.2Z" fill="#ee1c25" fill-opacity="0.63"/><path d="M1584.0 689.9L1589.1 699.1H1578.9Z" fill="#1010f0" fill-opacity="0.58"/><path d="M1515.1 689.4H1524.9L1520.0 698.9Z" fill="#ee1c25" fill-opacity="0.63"/>
<path d="M1581.6 206.6V721" stroke="#000" stroke-width="3" stroke-dasharray="2.4 4.6"/>
<path d="M1498.3 207V719.2H1981" fill="none" stroke="#1a1a1a" stroke-width="1.8"/>
<path d="M1519.7 719V725.2" stroke="#222" stroke-width="1.5"/>
<text x="1519.7" y="749" font-size="24.5" text-anchor="middle">0</text>
<path d="M1614.5 719V725.2" stroke="#222" stroke-width="1.5"/>
<text x="1614.5" y="749" font-size="24.5" text-anchor="middle">2</text>
<path d="M1709.3 719V725.2" stroke="#222" stroke-width="1.5"/>
<text x="1709.3" y="749" font-size="24.5" text-anchor="middle">4</text>
<path d="M1804.1 719V725.2" stroke="#222" stroke-width="1.5"/>
<text x="1804.1" y="749" font-size="24.5" text-anchor="middle">6</text>
<path d="M1898.9 719V725.2" stroke="#222" stroke-width="1.5"/>
<text x="1898.9" y="749" font-size="24.5" text-anchor="middle">8</text>
<text x="1738.8" y="779.8" font-size="24.5" text-anchor="middle">-Log10(Q-value)</text>
<path d="M1795 683H1845" stroke="#000" stroke-width="2.6" stroke-dasharray="2.4 4.6"/>
<text x="1863.8" y="691.8" font-size="24.5">Q = 0.05</text>
</svg></body></html>
